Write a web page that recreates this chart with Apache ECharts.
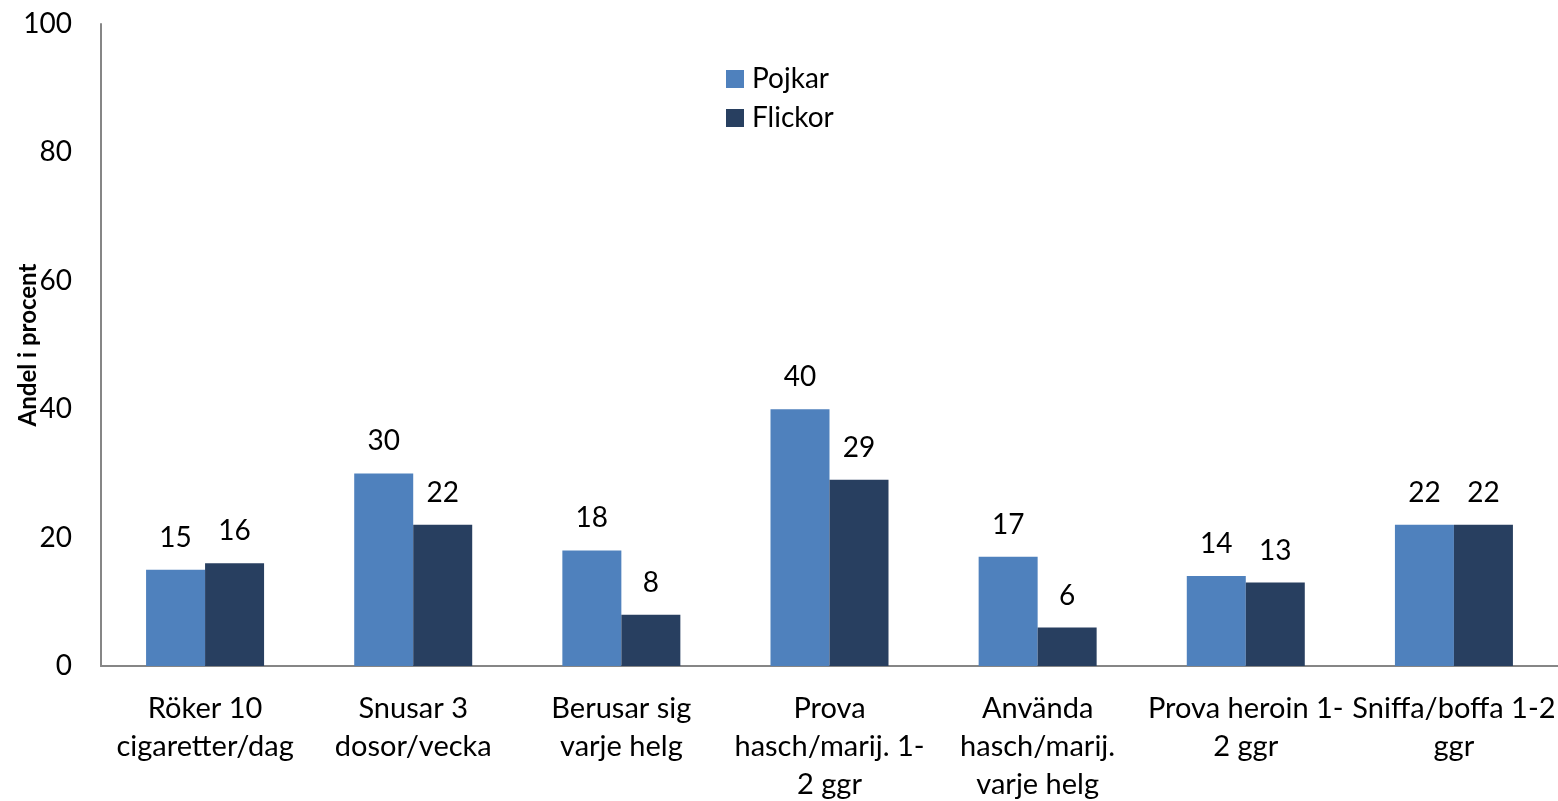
<!DOCTYPE html>
<html><head><meta charset="utf-8">
<script src="https://cdn.jsdelivr.net/npm/echarts@6/dist/echarts.min.js"></script>
<style>html,body{margin:0;padding:0;background:#fff}#c{width:1558px;height:801px}</style>
</head><body><div id="c"></div>
<script>
const categories = ["Röker 10\ncigaretter/dag","Snusar 3\ndosor/vecka","Berusar sig\nvarje helg","Prova\nhasch/marij. 1-\n2 ggr","Använda\nhasch/marij.\nvarje helg","Prova heroin 1-\n2 ggr","Sniffa/boffa 1-2\nggr"];
const pojkar = [15,30,18,40,17,14,22];
const flickor = [16,22,8,29,6,13,22];
const yTicks = [0,20,40,60,80,100];
const FONT = "Lato";
const chart = echarts.init(document.getElementById('c'));
chart.setOption({
  animation:false,
  textStyle:{fontFamily:FONT},
  grid:{left:101,right:0,top:24,bottom:135,containLabel:false,outerBoundsMode:'none'},
  legend:{
    orient:'vertical', left:726, top:65, padding:0, itemWidth:18, itemHeight:18, itemGap:11,
    icon:'rect',
    textStyle:{fontFamily:FONT,fontSize:28,color:'#000',padding:[0,0,0,3]},
    data:['Pojkar','Flickor']
  },
  xAxis:{
    type:'category', data:categories,
    axisLine:{lineStyle:{color:'#868686',width:2}},
    axisTick:{show:false},
    axisLabel:{interval:0,fontFamily:FONT,fontSize:29,color:'#000',lineHeight:38,margin:24}
  },
  yAxis:{
    type:'value', min:0, max:100, interval:20,
    name:'Andel i procent', nameLocation:'middle', nameGap:61, nameRotate:90,
    nameMoveOverlap:false,
    nameTextStyle:{fontFamily:FONT,fontSize:24,fontWeight:'bold',color:'#000'},
    splitLine:{show:false},
    axisLine:{show:true,lineStyle:{color:'#868686',width:2}},
    axisTick:{show:false},
    axisLabel:{fontFamily:FONT,fontSize:28,color:'#000',margin:29,
      formatter:v=>yTicks.includes(v)?String(v):''}
  },
  series:[
    {name:'Pojkar',type:'bar',data:pojkar,barWidth:59,barGap:'0%',
     itemStyle:{color:'#4F81BD'},
     label:{show:true,position:'top',distance:18,fontFamily:FONT,fontSize:28,color:'#000'}},
    {name:'Flickor',type:'bar',data:flickor,barWidth:59,
     itemStyle:{color:'#283F60'},
     label:{show:true,position:'top',distance:18,fontFamily:FONT,fontSize:28,color:'#000'}}
  ]
});
</script></body></html>
